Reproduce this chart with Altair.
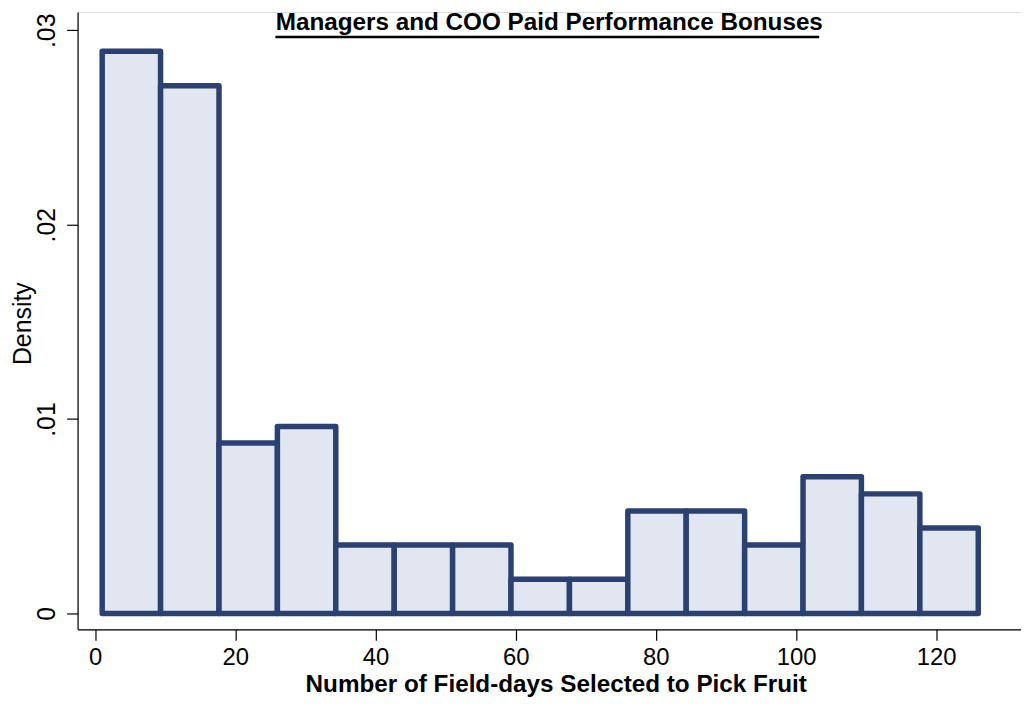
import altair as alt
import pandas as pd

# Histogram bins (start, end) and density heights
bin_start = [1.0, 9.33, 17.67, 26.0, 34.33, 42.67, 51.0, 59.33, 67.67, 76.0, 84.33, 92.67, 101.0, 109.33, 117.67]
bin_end = [9.33, 17.67, 26.0, 34.33, 42.67, 51.0, 59.33, 67.67, 76.0, 84.33, 92.67, 101.0, 109.33, 117.67, 126.0]
density = [0.02892, 0.02715, 0.00877, 0.00962, 0.00352, 0.00352, 0.00352, 0.00176, 0.00176,
           0.00527, 0.00527, 0.00352, 0.00703, 0.00615, 0.00439]

x_ticks = [0, 20, 40, 60, 80, 100, 120]
y_ticks = [0, 0.01, 0.02, 0.03]

df = pd.DataFrame({"start": bin_start, "end": bin_end, "density": density, "base": [0.0] * len(density)})

FONT = "Liberation Sans"
NAVY = "#2a4171"
FILL = "#e1e6f1"

x_scale = alt.Scale(domain=[-2.51, 132.1], nice=False, zero=False)
y_scale = alt.Scale(domain=[-0.00082, 0.03094], nice=False, zero=False)

bars = alt.Chart(df).mark_rect(
    fill=FILL, stroke=NAVY, strokeWidth=5.5, strokeJoin="round"
).encode(
    x=alt.X("start:Q", scale=x_scale, axis=alt.Axis(
        values=x_ticks, title="Number of Field-days Selected to Pick Fruit",
        titleFont=FONT, titleFontSize=24.4, titleFontWeight="bold", titleColor="black",
        titleX=481, titleY=63, titleBaseline="alphabetic", titleAlign="center",
        labelFont=FONT, labelFontSize=24, labelColor="black",
        labelBaseline="alphabetic", labelPadding=24, tickSize=11,
        domainColor="black", tickColor="black", domainWidth=1.2, tickWidth=1.2,
        grid=False, labelFlush=False, labelOverlap=False,
    )),
    x2="end:Q",
    y=alt.Y("density:Q", scale=y_scale, axis=alt.Axis(
        values=y_ticks, title="Density",
        labelExpr="datum.value == 0 ? '0' : replace(format(datum.value, '.2f'), '0.', '.')",
        titleFont=FONT, titleFontSize=25, titleFontWeight="normal", titleColor="black",
        titleX=-47, titleY=313, titleAngle=270, titleBaseline="alphabetic", titleAlign="center",
        labelFont=FONT, labelFontSize=25, labelColor="black", labelAngle=270,
        labelAlign="center", labelBaseline="alphabetic", labelPadding=12, tickSize=11,
        domainColor="black", tickColor="black", domainWidth=1.2, tickWidth=1.2,
        grid=False, labelFlush=False, labelOverlap=False,
    )),
    y2="base:Q",
)

underline = alt.Chart(pd.DataFrame({"k": [0]})).mark_rule(
    color="black", strokeWidth=2.5
).encode(x=alt.value(199), x2=alt.value(746), y=alt.value(25.2))

chart = alt.layer(bars, underline).properties(
    width=949,
    height=621,
    autosize=alt.AutoSizeParams(type="none"),
    padding={"left": 70, "top": 2, "right": 0, "bottom": 68},
    title=alt.TitleParams(
        text="Managers and COO Paid Performance Bonuses",
        font=FONT, fontSize=24.4, fontWeight="bold", color="black",
        anchor="middle", frame="group", baseline="top", offset=0, dy=23,
    ),
).configure_view(stroke=None).configure(background="white")

chart.save("out.html", embed_options={"renderer": "svg", "actions": False})
